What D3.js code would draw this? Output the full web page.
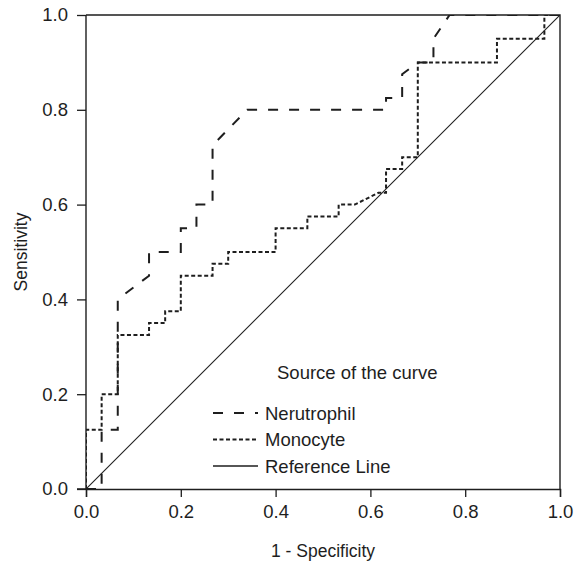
<!DOCTYPE html>
<html>
<head>
<meta charset="utf-8">
<script src="https://cdn.jsdelivr.net/npm/d3@7"></script>
<style>
  body { margin: 0; background: #fff; }
  text { font-family: "Liberation Sans", Arial, sans-serif; fill: #1e1e1e; }
</style>
</head>
<body>
<div class="canvas"></div>
<script>
// ROC curve points
const neutrophilX = [0, 0.033, 0.033, 0.067, 0.067, 0.133, 0.133, 0.2, 0.2, 0.233, 0.233, 0.267, 0.267, 0.34, 0.633, 0.633, 0.667, 0.667, 0.7, 0.733, 0.733, 0.767, 1];
const neutrophilY = [0, 0, 0.125, 0.125, 0.4, 0.45, 0.5, 0.5, 0.55, 0.55, 0.6, 0.6, 0.725, 0.8, 0.8, 0.825, 0.825, 0.875, 0.9, 0.9, 0.95, 1, 1];
const monocyteX = [0, 0, 0.033, 0.033, 0.067, 0.067, 0.133, 0.133, 0.167, 0.167, 0.2, 0.2, 0.267, 0.267, 0.3, 0.3, 0.4, 0.4, 0.467, 0.467, 0.533, 0.533, 0.567, 0.617, 0.633, 0.633, 0.667, 0.667, 0.7, 0.7, 0.867, 0.867, 0.967, 0.967, 1];
const monocyteY = [0, 0.125, 0.125, 0.2, 0.2, 0.325, 0.325, 0.35, 0.35, 0.375, 0.375, 0.45, 0.45, 0.475, 0.475, 0.5, 0.5, 0.55, 0.55, 0.575, 0.575, 0.6, 0.6, 0.625, 0.625, 0.675, 0.675, 0.7, 0.7, 0.9, 0.9, 0.95, 0.95, 1, 1];
const ticks = [0, 0.2, 0.4, 0.6, 0.8, 1.0];
const legendNames = ["Nerutrophil", "Monocyte", "Reference Line"];
const legendDash = ["10,11", "4,2.5", null];

const width = 574, height = 567;
const ink = "#1e1e1e";
const svg = d3.select(".canvas").append("svg").attr("width", width).attr("height", height);

let x = d3.scaleLinear().domain([0, 1]).range([86, 560]);
let y = d3.scaleLinear().domain([0, 1]).range([489, 15]);

let line = d3.line().x((d) => x(d[0])).y((d) => y(d[1]));

svg.append("clipPath").attr("id", "plot")
  .append("rect").attr("x", x(0)).attr("y", y(1))
  .attr("width", x(1) - x(0)).attr("height", y(0) - y(1));

let curves = svg.append("g").attr("clip-path", "url(#plot)");

// reference line
curves.append("path")
  .attr("d", line([[0, 0], [1, 1]]))
  .attr("fill", "none").attr("stroke", ink).attr("stroke-width", 1.1);

curves.append("path")
  .attr("d", line(monocyteX.map((v, i) => [v, monocyteY[i]])))
  .attr("fill", "none").attr("stroke", ink).attr("stroke-width", 2)
  .attr("stroke-dasharray", legendDash[1]);

curves.append("path")
  .attr("d", line(neutrophilX.map((v, i) => [v, neutrophilY[i]])))
  .attr("fill", "none").attr("stroke", ink).attr("stroke-width", 2)
  .attr("stroke-dasharray", legendDash[0]);

// frame
svg.append("path")
  .attr("d", `M${x(0)},${y(1)}H${x(1)}V${y(0)}`)
  .attr("fill", "none").attr("stroke", ink).attr("stroke-width", 1.4);

// axes
let xAxis = svg.append("g").attr("transform", `translate(0,${y(0)})`)
  .call(d3.axisBottom(x).tickValues(ticks).tickFormat(d3.format(".1f")).tickSize(8).tickPadding(8));
let yAxis = svg.append("g").attr("transform", `translate(${x(0)},0)`)
  .call(d3.axisLeft(y).tickValues(ticks).tickFormat(d3.format(".1f")).tickSize(9).tickPadding(9));
[xAxis, yAxis].forEach((g) => {
  g.select(".domain").attr("stroke", ink).attr("stroke-width", 1.4);
  g.selectAll(".tick line").attr("stroke", ink).attr("stroke-width", 1.3);
  g.selectAll(".tick text").style("font-size", "18.5px").attr("fill", ink);
});
yAxis.select(".domain").attr("d", `M-9,${y(0)}H0V${y(1)}`);

svg.append("text").attr("x", x(0.5)).attr("y", 557).attr("text-anchor", "middle")
  .style("font-size", "17.5px").text("1 - Specificity");
svg.append("text").attr("transform", `translate(27,${y(0.5)}) rotate(-90)`).attr("text-anchor", "middle")
  .style("font-size", "17.5px").text("Sensitivity");

// legend
svg.append("text").attr("x", 277).attr("y", 379).style("font-size", "18.5px").text("Source of the curve");
legendNames.forEach((name, i) => {
  let ly = 413 + i * 26.5;
  svg.append("line").attr("x1", 213).attr("x2", 258).attr("y1", ly).attr("y2", ly)
    .attr("stroke", ink).attr("stroke-width", i == 2 ? 1.3 : 2)
    .attr("stroke-dasharray", legendDash[i]);
  svg.append("text").attr("x", 265).attr("y", ly + 6.5).style("font-size", "18.5px").text(name);
});
</script>
</body>
</html>
